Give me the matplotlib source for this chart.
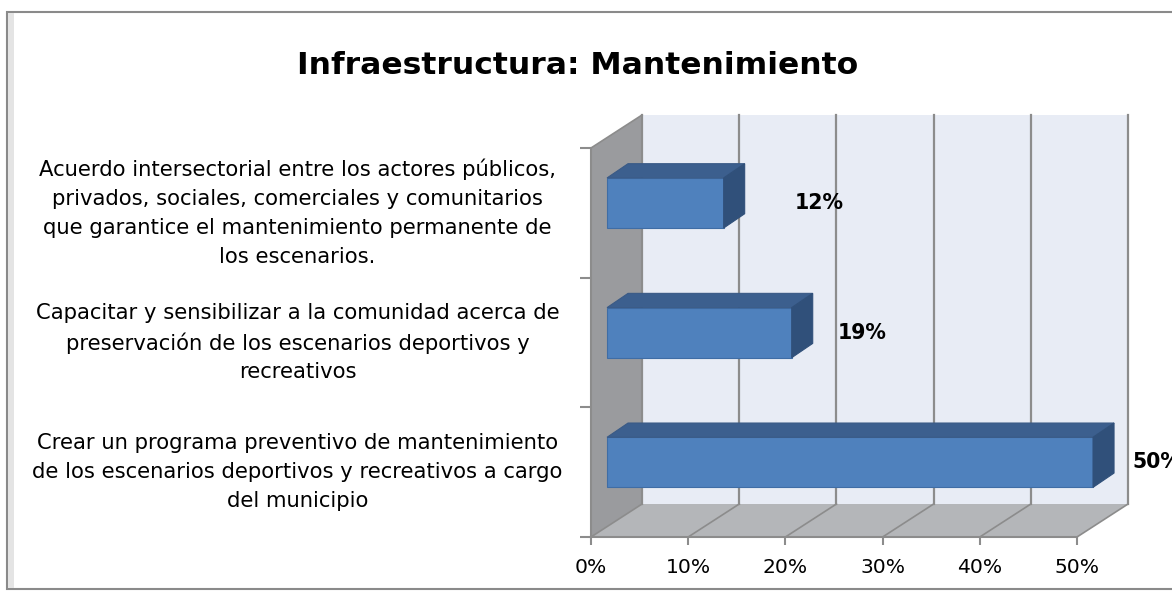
import matplotlib
matplotlib.use("Agg")
import matplotlib.pyplot as plt
from matplotlib.patches import Polygon, Rectangle

# data (bottom to top, as drawn)
categories = [
    "Crear un programa preventivo de mantenimiento\nde los escenarios deportivos y recreativos a cargo\ndel municipio",
    "Capacitar y sensibilizar a la comunidad acerca de\npreservación de los escenarios deportivos y\nrecreativos",
    "Acuerdo intersectorial entre los actores públicos,\nprivados, sociales, comerciales y comunitarios\nque garantice el mantenimiento permanente de\nlos escenarios.",
]
values = [50, 19, 12]
value_labels = ["50%", "19%", "12%"]
xticks = [0, 10, 20, 30, 40, 50]
xtick_labels = ["0%", "10%", "20%", "30%", "40%", "50%"]

plt.rcParams['font.family'] = ['DejaVu Sans']

W, H = 1172, 593
fig = plt.figure(figsize=(W / 100, H / 100), dpi=100)

# chart frame
fig.patches.append(Rectangle((7 / W, 4 / H), 1.2, (H - 16) / H, transform=fig.transFigure,
                             facecolor='white', edgecolor='#8a8a8a', lw=1.5, zorder=-10))
fig.patches.append(Rectangle((8 / W, 5 / H), 6 / W, (H - 18) / H, transform=fig.transFigure,
                             facecolor='#e4e4e4', edgecolor='none', zorder=-9))

ax = fig.add_axes([591 / W, 56 / H, 486 / W, 389 / H])
ax.set_xlim(0, 50)
ax.set_ylim(0, 3)
ax.patch.set_visible(False)

# depth of the 3d box
DX, DY = 5.25, 0.2545
grid_c = '#8c8c8c'

# back wall, left wall, floor
ax.add_patch(Rectangle((DX, DY), 50, 3, facecolor='#e8ecf5', edgecolor='none', zorder=0, clip_on=False))
ax.add_patch(Polygon([(0, 0), (0, 3), (DX, 3 + DY), (DX, DY)], facecolor='#9a9b9e',
                     edgecolor='none', zorder=0, clip_on=False))
ax.add_patch(Polygon([(0, 0), (50, 0), (50 + DX, DY), (DX, DY)], facecolor='#b4b6b9',
                     edgecolor='none', zorder=0, clip_on=False))

for x in xticks:
    ax.plot([x + DX, x + DX], [DY, 3 + DY], color=grid_c, lw=1.6, zorder=1, clip_on=False)
    ax.plot([x, x + DX], [0, DY], color=grid_c, lw=1.2, zorder=1, clip_on=False)
ax.plot([0, DX], [3, 3 + DY], color=grid_c, lw=1.2, zorder=1, clip_on=False)

# bars
d0x, d0y = 1.65, 0.076
bx, by = 2.16, 0.11
bh = 0.386
centers = [i + 0.5 + d0y for i in range(len(values))]
bars = ax.barh(centers, values, height=bh, left=d0x, color='#4f81bd', edgecolor='#3f6da5',
               lw=0.8, zorder=3)
for b in bars:
    b.set_clip_on(False)
for c, v in zip(centers, values):
    top = c + bh / 2
    bot = c - bh / 2
    right = d0x + v
    ax.add_patch(Polygon([(d0x, top), (right, top), (right + bx, top + by), (d0x + bx, top + by)],
                         facecolor='#3c5f8e', edgecolor='#3a5a86', lw=0.8, zorder=3, clip_on=False))
    ax.add_patch(Polygon([(right, bot), (right, top), (right + bx, top + by), (right + bx, bot + by)],
                         facecolor='#30507a', edgecolor='#30507a', lw=0.8, zorder=3, clip_on=False))

# value labels
label_x = [55.7, 25.4, 21.0]
for c, lx, t in zip(centers, label_x, value_labels):
    ax.text(lx, c, t, ha='left', va='center', fontsize=14.8, fontweight='bold', zorder=4)

# category labels
for i, t in enumerate(categories):
    ax.text(-30.2, i + 0.5, t, ha='center', va='center', multialignment='center',
            fontsize=15.2, linespacing=1.55)

# axes
for s in ['top', 'right']:
    ax.spines[s].set_visible(False)
for s in ['left', 'bottom']:
    ax.spines[s].set_color(grid_c)
    ax.spines[s].set_linewidth(1.5)
ax.set_xticks(xticks)
ax.set_xticklabels(xtick_labels, fontsize=14.6)
ax.set_yticks([0, 1, 2, 3])
ax.set_yticklabels([])
ax.tick_params(axis='x', length=6, width=1.5, color=grid_c, pad=9)
ax.tick_params(axis='y', length=8, width=1.5, color=grid_c)

fig.text(578 / W, 1 - 65 / H, "Infraestructura: Mantenimiento", ha='center', va='center',
         fontsize=22.6, fontweight='bold')

fig.savefig('out.png', dpi=100)
